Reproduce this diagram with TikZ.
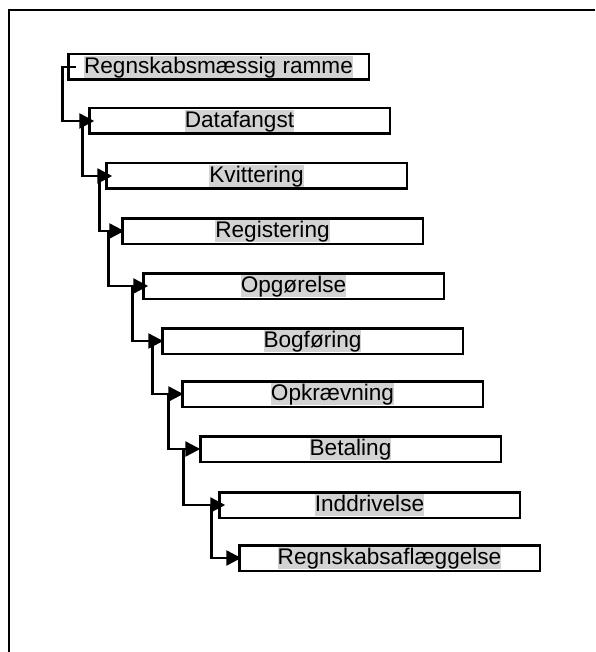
\documentclass[tikz,border=0pt]{standalone}
\usepackage{fontspec}
\setmainfont{Liberation Sans}
\usepackage{xcolor}
\usetikzlibrary{arrows.meta}
\definecolor{hl}{RGB}{211,211,211}
\newcommand{\marked}[1]{{\setlength{\fboxsep}{0pt}\colorbox{hl}{\rule[-4pt]{0pt}{21.5pt}#1}}}

\begin{document}
\begin{tikzpicture}[x=1pt,y=-1pt]
	 \tikzstyle{stage}=[rectangle,draw,line width=2.5pt,minimum width=300.5pt,minimum height=25.5pt,inner sep=0pt,outer sep=0pt,font=\fontsize{22.6pt}{27pt}\selectfont]
	 \tikzstyle{link} = [draw,line width=2.5pt,-{Triangle[length=15pt,width=15pt]}]
	 \useasboundingbox (0,0) rectangle (595,652);
	 \draw[line width=2.5pt] (9,652) -- (9,10) -- (595,10);
	 \node[stage] (b1) at (218.5,67) {\marked{Regnskabsmæssig ramme}};
	 \node[stage] (b2) at (239.5,121) {\marked{Datafangst}};
	 \node[stage] (b3) at (256.5,176) {\marked{Kvittering}};
	 \node[stage] (b4) at (272.5,231) {\marked{Registering}};
	 \node[stage] (b5) at (293.5,286) {\marked{Opgørelse}};
	 \node[stage] (b6) at (312.5,341) {\marked{Bogføring}};
	 \node[stage] (b7) at (332.5,394) {\marked{Opkrævning}};
	 \node[stage] (b8) at (350.5,449) {\marked{Betaling}};
	 \node[stage] (b9) at (369.5,505) {\marked{Inddrivelse}};
	 \node[stage] (b10) at (389.5,558) {\marked{Regnskabsaflæggelse}};
	 \draw[link] ([xshift=8pt]b1.west) -- ([xshift=-6pt]b1.west) |- ([xshift=5pt]b2.west);
	 \draw[link] ([xshift=-7pt]b2.west) |- ([xshift=6pt]b3.west);
	 \draw[link] ([xshift=-7pt]b3.west) |- ([xshift=2pt]b4.west);
	 \draw[link] ([xshift=-14pt]b4.west) |- ([xshift=5pt]b5.west);
	 \draw[link] ([xshift=-11pt]b5.west) |- ([xshift=1pt]b6.west);
	 \draw[link] ([xshift=-10pt]b6.west) |- ([xshift=1pt]b7.west);
	 \draw[link] ([xshift=-14pt]b7.west) |- ([xshift=0pt]b8.west);
	 \draw[link] ([xshift=-17pt]b8.west) |- ([xshift=6pt]b9.west);
	 \draw[link] ([xshift=-8pt]b9.west) |- ([xshift=2pt]b10.west);
 \end{tikzpicture}
\end{document}
